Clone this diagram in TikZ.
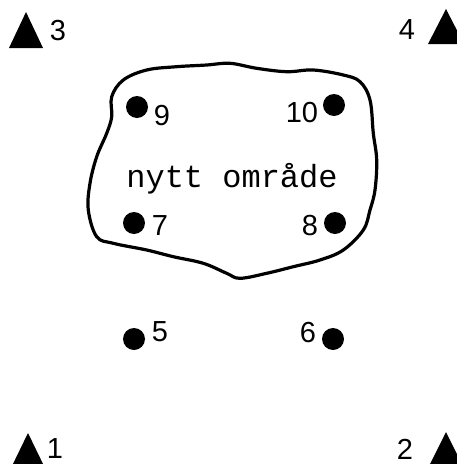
\documentclass[tikz,border=0pt]{standalone}
\usepackage{fontspec}
\setmainfont{Liberation Sans}
\newfontfamily\monofnt{Liberation Mono}
\begin{document}
\begin{tikzpicture}[x=1pt,y=-1pt,
  num/.style={inner sep=0pt,font=\fontsize{29}{31}\selectfont},
  dotmark/.style={circle,fill=black,inner sep=0pt,minimum size=22pt},
  tri/.style={fill=black}]
\useasboundingbox (0,0) rectangle (457,464);
\clip (0,0) rectangle (457,464);
% triangles
\fill (26,12) -- (43,48) -- (9,48) -- cycle;
\fill (446,9) -- (464,44) -- (428,44) -- cycle;
\fill (28,433) -- (45,468) -- (11,468) -- cycle;
\fill (446,432) -- (464,468) -- (428,468) -- cycle;
\node[num] (l3) at (58,31) {3};
\node[num] (l4) at (407,30) {4};
\node[num] (l1) at (55,449) {1};
\node[num] (l2) at (405,449) {2};
% blob
\draw[line width=3.2pt] plot[smooth cycle,tension=0.6] coordinates {
(111.7,96.7) (123.3,80) (146.7,70) (176.7,66.7) (206.7,65) (230,63.3)
(256.7,68.3) (286.7,71.7) (313.3,70) (343.3,75) (360,81.7) (370,100)
(373.3,133.3) (376.7,160) (375,190) (370,210) (363.3,230) (343.3,250)
(320,260) (293.3,266.7) (266.7,273.3) (240,278.3) (226.7,273.3)
(203.3,263.3) (173.3,256.7) (146.7,250) (113.3,243.3) (96.7,236.7)
(88.3,210) (90,183.3) (96.7,156.7) (106.7,133.3) (111.7,116.7)};
\node[inner sep=0pt,anchor=base,font=\monofnt\fontsize{32}{34}\selectfont] (txt) at (232,187) {nytt område};
% dots
\node[dotmark] (d9) at (137,107) {};
\node[num] (l9) at (162,116) {9};
\node[dotmark] (d10) at (334,105) {};
\node[num] (l10) at (302,113) {10};
\node[dotmark] (d7) at (134,223) {};
\node[num] (l7) at (160,226) {7};
\node[dotmark] (d8) at (335,223) {};
\node[num] (l8) at (310,226) {8};
\node[dotmark] (d5) at (134,339) {};
\node[num] (l5) at (160,332) {5};
\node[dotmark] (d6) at (333,339) {};
\node[num] (l6) at (308,333) {6};
\end{tikzpicture}
\end{document}
